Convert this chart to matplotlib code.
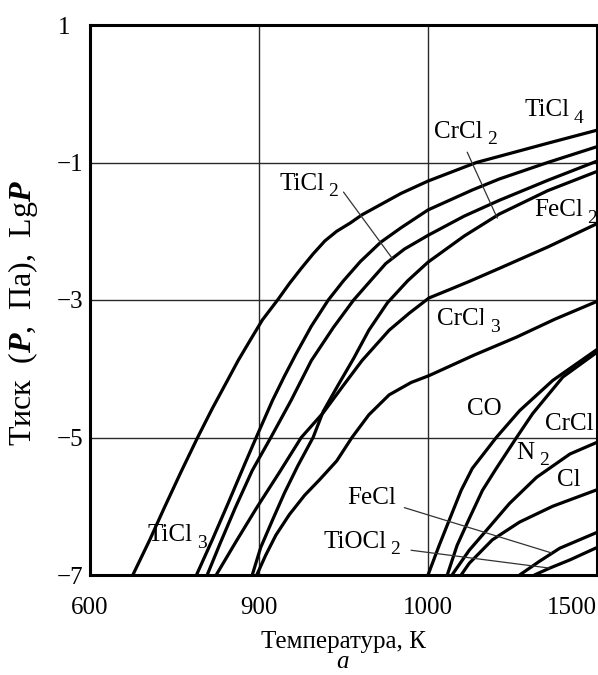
import numpy as np
import matplotlib.pyplot as plt

plt.rcParams['font.family'] = ['Liberation Serif', 'DejaVu Serif']
plt.rcParams['mathtext.fontset'] = 'custom'
plt.rcParams['mathtext.rm'] = 'Liberation Serif'
plt.rcParams['mathtext.it'] = 'Liberation Serif:italic'
plt.rcParams['mathtext.bf'] = 'Liberation Serif:bold'
plt.rcParams['mathtext.bfit'] = 'Liberation Serif:italic:bold'

# vapour pressure curves: temperature (K) and lg P (Pa)
ticl4_t = [676, 706, 732, 761, 791, 817, 844, 863, 884, 902, 911, 918, 925, 932, 939, 946, 954, 961,
           984, 1000, 1143, 1211, 1354, 1500]
ticl4_p = [-7.0, -6.49, -6.02, -5.51, -5.0, -4.58, -4.17, -3.88, -3.59, -3.29, -3.0, -2.76, -2.54, -2.33,
           -2.14, -2.00, -1.88, -1.76, -1.45, -1.27, -1.00, -0.91, -0.72, -0.53]

ticl3_t = [789, 817, 845, 875, 895, 908, 915, 922, 931, 941, 950, 960, 972, 984, 1000, 1131, 1211, 1354, 1500]
ticl3_p = [-7.0, -6.49, -5.96, -5.38, -5.0, -4.46, -4.11, -3.78, -3.38, -3.0, -2.72, -2.44, -2.16, -1.95,
           -1.69, -1.40, -1.24, -1.00, -0.77]

ticl2_t = [808, 831, 858, 888, 907, 919, 931, 944, 956, 966, 975, 986, 1000, 1107, 1211, 1354, 1500]
ticl2_p = [-7.0, -6.54, -6.02, -5.48, -5.0, -4.46, -3.88, -3.40, -3.0, -2.72, -2.47, -2.26, -2.06, -1.78,
           -1.55, -1.26, -0.98]

crcl2_t = [888, 901, 908, 915, 923, 932, 938, 947, 956, 965, 976, 988, 1000, 1107, 1211, 1354, 1500]
crcl2_p = [-7.0, -6.60, -6.20, -5.81, -5.41, -5.0, -4.62, -4.23, -3.85, -3.44, -3.04, -2.72, -2.45, -2.07,
           -1.75, -1.41, -1.13]

fecl2_t = [824, 861, 896, 912, 925, 938, 950, 961, 977, 989, 1003, 1063, 1122, 1211, 1354, 1500]
fecl2_p = [-7.0, -6.49, -6.02, -5.51, -5.0, -4.64, -4.24, -3.88, -3.44, -3.19, -2.97, -2.85, -2.73, -2.54,
           -2.23, -1.89]

crcl3_t = [896, 904, 910, 918, 927, 936, 946, 955, 965, 977, 990, 1003, 1137, 1262, 1375, 1500]
crcl3_p = [-7.0, -6.71, -6.42, -6.12, -5.84, -5.61, -5.34, -5.0, -4.67, -4.38, -4.20, -4.10, -3.80, -3.54,
           -3.28, -3.02]

co_t = [1000, 1033, 1063, 1098, 1131, 1202, 1271, 1369, 1500]
co_p = [-7.0, -6.57, -6.20, -5.77, -5.45, -5.0, -4.61, -4.17, -3.72]

n2_t = [1057, 1086, 1122, 1161, 1202, 1262, 1310, 1399, 1500]
n2_p = [-7.0, -6.57, -6.18, -5.77, -5.45, -5.0, -4.65, -4.12, -3.76]

crcl_t = [1071, 1122, 1173, 1241, 1321, 1420, 1500]
crcl_p = [-7.0, -6.64, -6.35, -5.96, -5.58, -5.24, -5.07]

cl_t = [1098, 1122, 1190, 1271, 1369, 1500]
cl_p = [-7.0, -6.83, -6.49, -6.23, -6.00, -5.76]

fecl_t = [1271, 1330, 1390, 1500]
fecl_p = [-7.0, -6.80, -6.61, -6.38]

tiocl2_t = [1315, 1360, 1420, 1500]
tiocl2_p = [-7.0, -6.90, -6.78, -6.60]

curves = [(ticl4_t, ticl4_p), (ticl3_t, ticl3_p), (ticl2_t, ticl2_p),
          (crcl2_t, crcl2_p), (fecl2_t, fecl2_p), (crcl3_t, crcl3_p),
          (co_t, co_p), (n2_t, n2_p), (crcl_t, crcl_p), (cl_t, cl_p),
          (fecl_t, fecl_p), (tiocl2_t, tiocl2_p)]

# the temperature axis is not uniform: these four values are equally spaced
x_ticks = [600, 900, 1000, 1500]
y_ticks = [1, -1, -3, -5, -7]
y_tick_labels = ['1  ', '\u22121', '\u22123', '\u22125', '\u22127']

# label text, subscript, position (T, lgP) of the baseline start
labels = [
    ('TiCl', '4', 1286, -0.33),
    ('CrCl', '2', 1018, -0.64),
    ('TiCl', '2', 912, -1.40),
    ('FeCl', '2', 1315, -1.78),
    ('CrCl', '3', 1027, -3.37),
    ('CO', '', 1116, -4.67),
    ('CrCl', '', 1345, -4.89),
    ('N', '2', 1262, -5.31),
    ('Cl', '', 1381, -5.71),
    ('FeCl', '', 952, -5.97),
    ('TiOCl', '2', 938, -6.60),
    ('TiCl', '3', 702, -6.51),
]

# thin leader lines from labels to curves
leaders = [
    ((950, -1.43), (979, -2.40)),
    ((1116, -0.85), (1205, -1.81)),
    ((986, -6.02), (1366, -6.68)),
    ((990, -6.64), (1360, -6.90)),
]


def fwd(t):
    return np.interp(t, x_ticks, [0, 1, 2, 3])


def inv(u):
    return np.interp(u, [0, 1, 2, 3], x_ticks)


fig = plt.figure(figsize=(5.98, 6.75), dpi=100)
ax = fig.add_axes([90 / 598, 1 - 575 / 675, 507 / 598, 550 / 675])
ax.set_xscale('function', functions=(fwd, inv))
ax.set_xlim(600, 1500)
ax.set_ylim(-7, 1)

for t, p in curves:
    ax.plot(t, p, color='black', lw=2.3, solid_capstyle='round',
            solid_joinstyle='round', zorder=3)

for v in x_ticks[1:-1]:
    ax.axvline(v, color='#2a2a2a', lw=1.0, zorder=1)
for v in y_ticks[1:-1]:
    ax.axhline(v, color='#2a2a2a', lw=1.0, zorder=1)

for (t0, p0), (t1, p1) in leaders:
    ax.annotate('', xy=(t1, p1), xytext=(t0, p0),
                arrowprops=dict(arrowstyle='-', lw=0.9, color='#333333',
                                shrinkA=0, shrinkB=0), zorder=4)

for name, sub, t, p in labels:
    box = sub_box = None
    if sub == '3' and name == 'CrCl':
        # this label sits on a white patch that hides the grid line
        box = dict(facecolor='white', edgecolor='none', pad=3)
        sub_box = dict(facecolor='white', edgecolor='none', pad=5)
    txt = ax.text(t, p, name, fontsize=18, ha='left', va='baseline',
                  bbox=box, zorder=2.5)
    if sub:
        ax.annotate(sub, xy=(1, 0), xycoords=txt, xytext=(3, -1),
                    textcoords='offset points', fontsize=14,
                    ha='left', va='baseline', bbox=sub_box, zorder=2.6)

ax.set_xticks(x_ticks)
ax.set_xticklabels([str(v) for v in x_ticks], fontsize=18)
ax.get_xticklabels()[-1].set_ha('right')
ax.set_yticks(y_ticks)
ax.set_yticklabels(y_tick_labels, fontsize=18)
ax.tick_params(length=0)
ax.tick_params(axis='x', pad=16)
ax.tick_params(axis='y', pad=5)
for s in ax.spines.values():
    s.set_linewidth(2.2)

fig.text(343 / 598, 1 - 642 / 675, 'Температура, К', fontsize=18,
         ha='center', va='center')
fig.text(343 / 598, 1 - 668 / 675, 'а', fontsize=18, style='italic',
         ha='center', va='baseline')
fig.text(23 / 598, 1 - 313 / 675,
         r'Тиск  ($\mathbfit{P}$,  Па),  Lg$\mathbfit{P}$',
         fontsize=23, rotation=90, ha='center', va='center')

fig.savefig('out.png', dpi=100)
